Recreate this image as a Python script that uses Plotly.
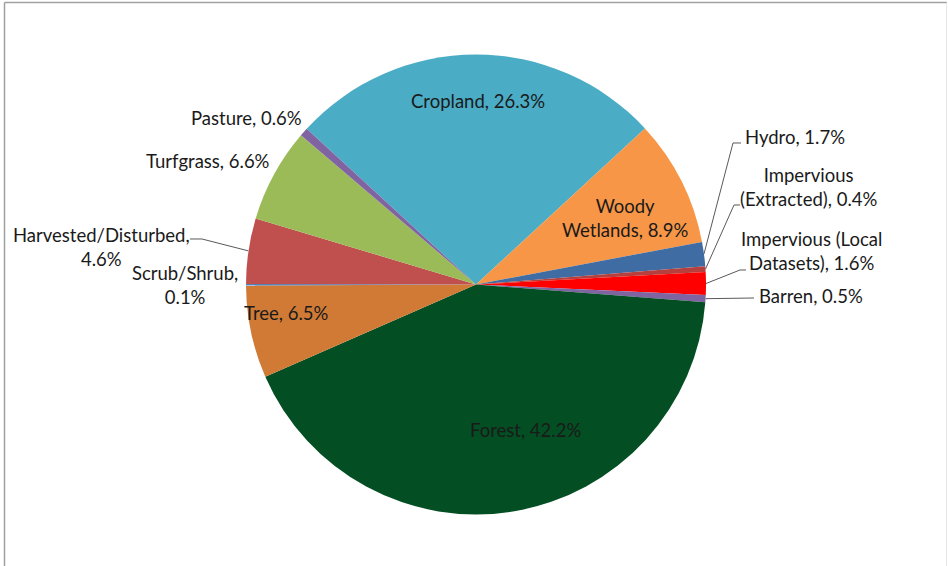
import math
import plotly.graph_objects as go

# ---- data ----
categories = ["Cropland", "Woody Wetlands", "Hydro", "Impervious (Extracted)",
              "Impervious (Local Datasets)", "Barren", "Forest", "Tree",
              "Scrub/Shrub", "Harvested/Disturbed", "Turfgrass", "Pasture"]
values = [26.3, 8.9, 1.7, 0.4, 1.6, 0.5, 42.2, 6.5, 0.1, 4.6, 6.6, 0.6]
label_text = ["Cropland, 26.3%", "Woody<br>Wetlands, 8.9%", "Hydro, 1.7%",
              "Impervious<br>(Extracted), 0.4%", "Impervious (Local<br>Datasets), 1.6%",
              "Barren, 0.5%", "Forest, 42.2%", "Tree, 6.5%", "Scrub/Shrub,<br>0.1%",
              "Harvested/Disturbed,<br>4.6%", "Turfgrass, 6.6%", "Pasture, 0.6%"]
colors = ["#4BACC6", "#F79646", "#3E6CA3", "#B5403D", "#FF0000", "#8064A2",
          "#034F23", "#D07A36", "#4F81BD", "#C0504D", "#9BBB59", "#8064A2"]

W, H = 948, 566
CX, CY, R = 476, 284.5, 230
ROT = -47.4  # start angle of first slice (deg, clockwise from 12 o'clock)

def px(x):
    return x / W

def py(y):
    return 1 - y / H

fig = go.Figure(go.Pie(
    labels=categories, values=values, sort=False, direction="clockwise",
    rotation=ROT, textinfo="none", marker=dict(colors=colors, line=dict(width=0)),
    showlegend=False,
    domain=dict(x=[px(CX - R), px(CX + R)], y=[py(CY + R), py(CY - R)]),
))

# label placement (layout only): (x, y, xanchor)
label_pos = [
    (478, 101, "center"), (625, 218, "center"), (743, 137, "left"),
    (808, 187, "center"), (811, 251, "center"), (757, 296, "left"),
    (525, 430, "center"), (286, 313, "center"), (185, 285, "center"),
    (101, 247, "center"), (272, 161, "right"), (304, 118, "right"),
]
font = dict(family="Lato, Calibri, sans-serif", size=18.5, color="#1a1a1a")
annotations = []
for txt, (x, y, xa) in zip(label_text, label_pos):
    annotations.append(dict(text=txt, x=px(x), y=py(y), xref="paper", yref="paper",
                            xanchor=xa, yanchor="middle", showarrow=False,
                            font=font, align="center"))

# leader lines: from slice edge (computed from data) to elbow points
def edge_point(i):
    total = sum(values)
    start = ROT + 360 * sum(values[:i]) / total
    mid = math.radians(start + 180 * values[i] / total)
    return CX + R * math.sin(mid), CY - R * math.cos(mid)

leaders = {
    2: [(733, 143), (741, 143)],
    3: [(734, 205), (740, 205)],
    4: [(740, 270), (746, 270)],
    5: [(754, 298)],
    9: [(202, 239), (190, 239)],
}
shapes = []
for i, pts in leaders.items():
    ex, ey = edge_point(i)
    allp = [(ex, ey)] + pts
    path = "M " + " L ".join(f"{px(a):.5f},{py(b):.5f}" for a, b in allp)
    shapes.append(dict(type="path", path=path, xref="paper", yref="paper",
                       line=dict(color="#595959", width=1)))

# chart frame
shapes.append(dict(type="line", xref="paper", yref="paper", x0=px(4.5), x1=px(4.5),
                   y0=py(2.5), y1=0, line=dict(color="#A0A0A0", width=1.5)))
shapes.append(dict(type="line", xref="paper", yref="paper", x0=px(4.5), x1=px(947),
                   y0=py(2.5), y1=py(2.5), line=dict(color="#A0A0A0", width=1.5)))
shapes.append(dict(type="line", xref="paper", yref="paper", x0=px(946.5), x1=px(946.5),
                   y0=py(2.5), y1=0, line=dict(color="#E6E6E6", width=1)))

fig.update_layout(width=W, height=H, margin=dict(l=0, r=0, t=0, b=0),
                  paper_bgcolor="white", plot_bgcolor="white",
                  annotations=annotations, shapes=shapes)
fig.write_html("out.html", config={"displayModeBar": False},
               post_script="document.body.style.margin='0';document.body.style.overflow='hidden';")
